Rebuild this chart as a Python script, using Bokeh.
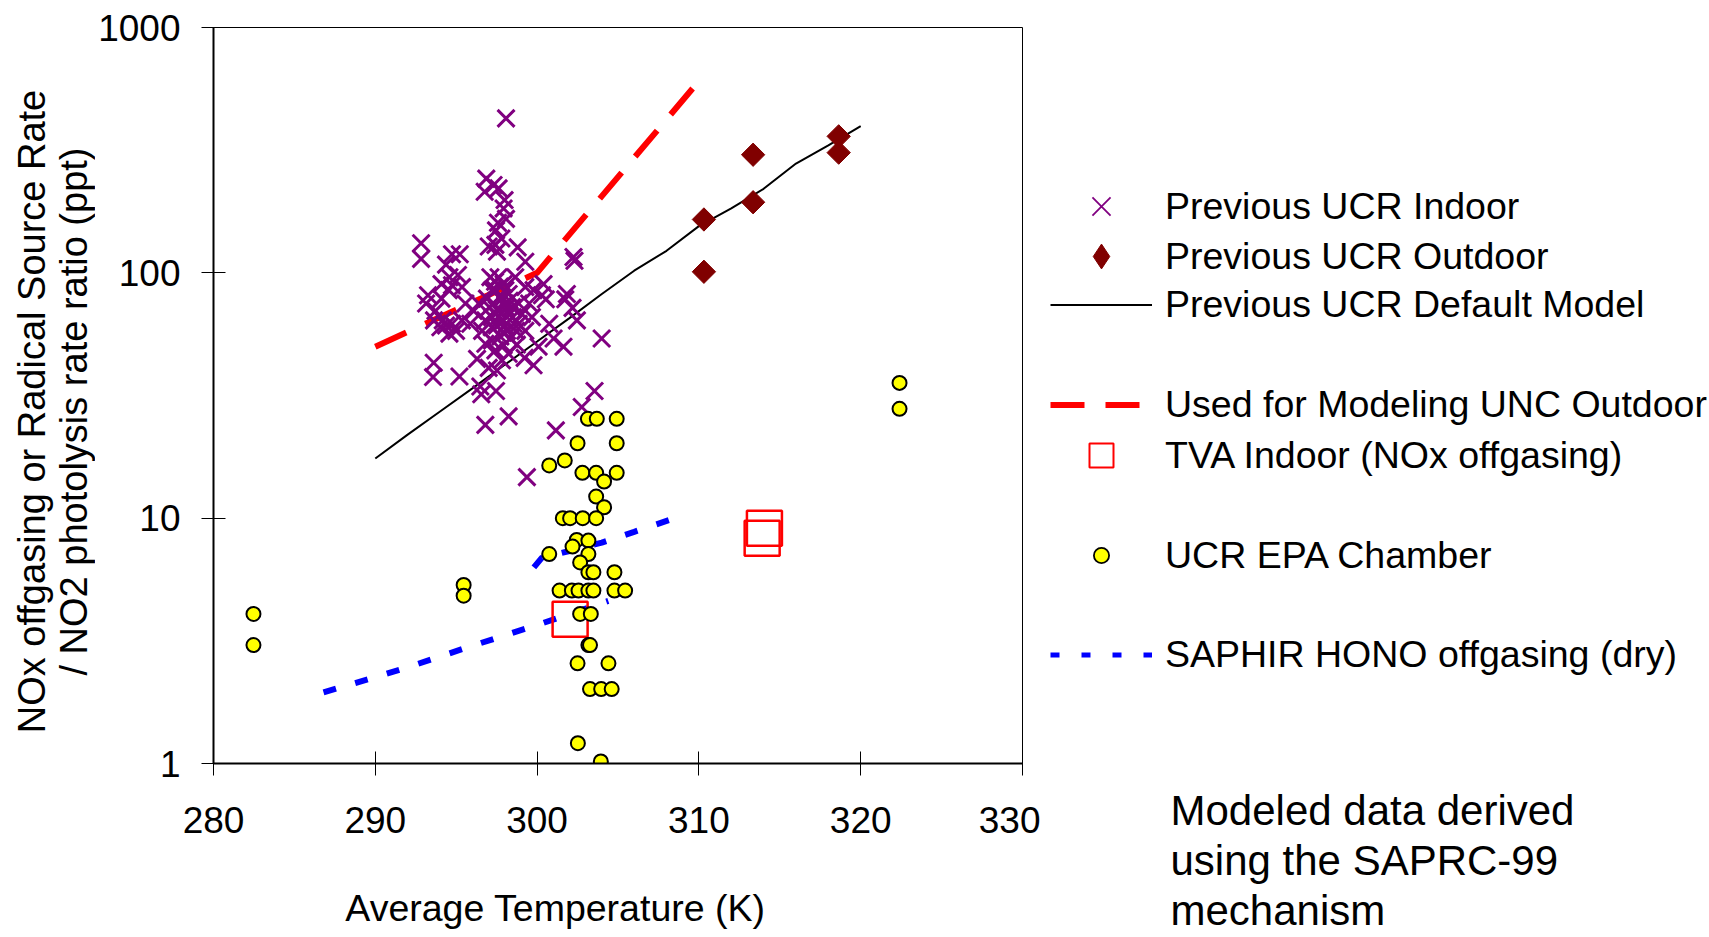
import math
import numpy as np
from bokeh.plotting import figure
from bokeh.layouts import row, column
from bokeh.models import (Plot, Range1d, FixedTicker, PrintfTickFormatter, Legend, LegendItem,
                          Label)
from bokeh.embed import file_html
from bokeh.resources import INLINE

FONT = "Liberation Sans"

# ---------------- data ----------------
x_ticks = [280, 290, 300, 310, 320, 330]
y_ticks = [1, 10, 100, 1000]
y_tick_labels = ["1", "10", "100", "1000"]

indoor_t = [298.08, 296.86, 297.31, 296.76, 297.62, 297.99, 297.93, 298.08, 297.58, 297.46,
            297.79, 297.42, 297.01, 297.52, 298.80, 292.83, 292.83, 294.74, 295.22, 299.27,
            302.25, 302.31, 294.37, 294.58, 294.09, 295.11, 294.74, 295.36, 294.54, 293.26,
            293.14, 294.09, 293.72, 293.63, 294.17, 294.37, 294.02, 294.74, 294.99, 294.58,
            295.36, 295.87, 296.08, 295.57, 296.39, 296.90, 297.21, 297.05, 299.27, 299.78,
            300.40, 300.30, 300.54, 299.51, 299.68, 299.27, 298.86, 298.75, 300.09, 300.75,
            301.02, 301.63, 301.74, 302.19, 301.84, 302.46, 303.99, 299.78, 299.23, 293.61,
            293.57, 295.20, 296.49, 296.55, 297.46, 298.24, 296.80, 297.52, 297.01, 296.29,
            297.62, 297.93, 297.42, 298.24, 297.73, 297.31, 298.04, 298.45, 297.62, 298.24,
            297.21, 297.93, 298.55, 297.52, 298.14, 297.73, 298.34, 297.21, 297.93, 297.42,
            298.24, 296.80, 296.60, 298.86, 299.06, 296.80, 297.83, 298.04, 297.11, 298.65,
            303.55, 302.76, 301.16, 299.37, 297.80, 298.10, 297.60, 298.00, 297.90, 297.50,
            298.30, 297.70, 298.50, 297.20, 298.70, 297.40]
indoor_v = [426, 242, 228, 214, 221, 198, 183, 166, 160, 149,
            138, 130, 128, 122, 127, 132, 114, 119, 119, 111,
            116, 112, 108, 96, 90, 98, 89, 87.5, 85, 81,
            75, 78.5, 70, 64, 64, 61, 60, 62, 58, 56.5,
            64, 62, 70, 75, 75, 78.5, 85, 72.5, 87.5, 85,
            90, 81, 78, 75, 66, 58, 62, 51, 50, 62,
            54, 50, 78, 72, 82, 64, 54, 42, 45, 43,
            37.6, 37.8, 34.4, 32, 33, 26, 24, 40, 41, 44.6,
            96, 90, 85, 82, 80, 75, 75, 72.5, 70, 68,
            66, 64, 62, 61, 58, 55, 54, 53, 50.6, 48.3,
            46.8, 51.4, 58, 75, 68, 64, 44, 85, 96, 96,
            33, 28.4, 22.8, 14.7, 78, 72, 66, 61, 57, 71,
            77, 88, 66, 60, 58, 92]

outdoor_t = [310.31, 310.31, 313.35, 313.35, 318.64, 318.64]
outdoor_v = [165, 101, 303, 194, 360, 309]

model_t = [290, 292, 294, 296, 298, 300, 302, 304, 306, 308, 310, 312, 314, 316, 318, 320]
model_v = [17.5, 21.9, 27.2, 33.8, 42.2, 52.5, 65.4, 82, 102, 123, 155, 183, 220, 279, 331, 396]

unc_t = [290, 300, 310.4]
unc_v = [50, 100, 650]

tva_t = [302.04, 314.05, 313.91]
tva_v = [3.87, 9.1, 8.28]

epa_t = [282.47, 282.47, 295.46, 295.46, 300.75, 301.71, 302.50, 304.92, 303.14, 303.69,
         304.92, 302.80, 303.65, 304.14, 304.92, 303.65, 304.14, 301.59, 302.04, 302.82,
         303.65, 302.45, 303.17, 302.19, 300.75, 303.17, 302.66, 303.17, 303.48, 304.78,
         301.39, 302.15, 302.56, 303.17, 303.48, 304.78, 305.44, 302.66, 303.32, 303.17,
         303.27, 302.50, 304.41, 303.27, 303.96, 304.61, 302.52, 303.94, 322.40, 322.40]
epa_v = [4.07, 3.04, 5.34, 4.83, 16.4, 17.2, 20.2, 20.2, 25.4, 25.4,
         25.4, 15.3, 15.3, 14.1, 15.3, 12.25, 11.08, 10.0, 10.0, 10.0,
         10.0, 8.15, 8.1, 7.66, 7.14, 7.14, 6.6, 6.02, 6.02, 6.02,
         5.07, 5.07, 5.07, 5.07, 5.07, 5.07, 5.07, 4.07, 4.07, 3.04,
         3.04, 2.56, 2.56, 2.01, 2.01, 2.01, 1.21, 1.02, 35.6, 27.9]

saphir_t = [286.8, 289.6, 292.1, 296.0, 299.9, 304.4, np.nan, 299.8, 300.3, 302.0, 304.0, 306.0, 308.5]
saphir_v = [1.95, 2.21, 2.48, 3.02, 3.65, 4.6, np.nan, 6.3, 6.9, 7.35, 7.95, 8.8, 10.0]

labels = ["Previous UCR Indoor", "Previous UCR Outdoor", "Previous UCR Default Model",
          "Used for Modeling UNC Outdoor", "TVA Indoor (NOx offgasing)", "UCR EPA Chamber",
          "SAPHIR HONO offgasing (dry)"]
note_lines = ["Modeled data derived", "using the SAPRC-99", "mechanism"]
x_title = "Average Temperature (K)"
y_title_lines = ["NOx offgasing or Radical Source Rate", "/ NO2 photolysis rate ratio (ppt)"]

H = 937          # page height
LEFT_W = 95      # strip holding the y-axis title
MAIN_W = 945     # chart incl. its axes
RIGHT_W = 669    # legend + note
XT_H = 57        # strip under the chart holding the x-axis title
CAN_UNALIGN = "frame_align" in Plot.properties()


def blank_panel(width, height):
    f = figure(width=width, height=height, x_range=Range1d(0, 1), y_range=Range1d(0, 1),
               x_axis_type=None, y_axis_type=None, output_backend="svg", toolbar_location=None,
               min_border=0)
    f.outline_line_color = None
    f.background_fill_color = "white"
    f.border_fill_color = "white"
    if CAN_UNALIGN:
        f.frame_align = False
    return f


# ---------------- main chart ----------------
p = figure(width=MAIN_W, height=H - XT_H, x_range=Range1d(280, 330), y_range=Range1d(1, 1000),
           y_axis_type="log", output_backend="svg", toolbar_location=None,
           min_border_left=211 - LEFT_W, min_border_right=18, min_border_top=27,
           min_border_bottom=(H - XT_H) - 763)
if CAN_UNALIGN:
    p.frame_align = False
p.background_fill_color = "white"
p.border_fill_color = "white"
p.outline_line_color = "black"
p.outline_line_width = 1
p.xgrid.visible = False
p.ygrid.visible = False

for ax in (p.xaxis[0], p.yaxis[0]):
    ax.axis_line_width = 2
    ax.axis_line_color = "black"
    ax.major_tick_in = 12
    ax.major_tick_out = 12
    ax.major_tick_line_color = "black"
    ax.major_tick_line_width = 1
    ax.minor_tick_line_color = None
    ax.major_label_text_font = FONT
    ax.major_label_text_font_size = "37px"
    ax.major_label_text_color = "black"

p.xaxis.ticker = FixedTicker(ticks=x_ticks)
p.xaxis.major_label_standoff = 31
p.yaxis.ticker = FixedTicker(ticks=y_ticks)
p.yaxis.formatter = PrintfTickFormatter(format="%d")
p.yaxis.major_label_overrides = {t: s for t, s in zip(y_ticks, y_tick_labels)}
p.yaxis.major_label_standoff = 21

p.line(model_t, model_v, line_color="black", line_width=2)
p.line(unc_t, unc_v, line_color="#FF0000", line_width=6, line_dash="34 21")
p.line(saphir_t, saphir_v, line_color="#0000FF", line_width=6, line_dash="13 20")
p.scatter(indoor_t, indoor_v, marker="x", size=24, line_color="#800080", line_width=3)
p.scatter(outdoor_t, outdoor_v, marker="square", angle=math.pi / 4, size=16.5,
          fill_color="#800000", line_color="#800000")
p.scatter(tva_t, tva_v, marker="square", size=35, fill_color=None,
          line_color="#FF0000", line_width=2.5)
p.scatter(epa_t, epa_v, marker="circle", size=14, fill_color="#FFFF00",
          line_color="black", line_width=2)

# ---------------- x-axis title strip ----------------
xs = blank_panel(MAIN_W, XT_H)
xs.add_layout(Label(x=555 - LEFT_W, y=H - 907, x_units="screen", y_units="screen", text=x_title,
                    text_align="center", text_baseline="middle", text_font=FONT,
                    text_font_size="37.5px", text_color="black"))

# ---------------- y-axis title strip (left) ----------------
lp = blank_panel(LEFT_W, H)
for text, xmid in zip(y_title_lines, [31, 73]):
    lp.add_layout(Label(x=xmid, y=H - 411, x_units="screen", y_units="screen", text=text,
                        angle=math.pi / 2, text_align="center", text_baseline="middle",
                        text_font=FONT, text_font_size="38px", text_color="black"))

# ---------------- legend & note panel (right) ----------------
q = blank_panel(RIGHT_W, H)

# legend samples: the same series, drawn in a range where none of their points is visible
k_indoor = q.scatter(indoor_t, indoor_v, marker="x", line_color="#800080", line_width=1.8)
k_outdoor = q.scatter(outdoor_t, outdoor_v, marker="diamond",
                      fill_color="#800000", line_color="#800000")
k_model = q.line(model_t, model_v, line_color="black", line_width=2)
k_unc = q.line(unc_t, unc_v, line_color="#FF0000", line_width=6, line_dash="34 21")
k_tva = q.scatter(tva_t, tva_v, marker="square", fill_color=None, line_color="#FF0000",
                  line_width=2)
k_epa = q.scatter(epa_t, epa_v, marker="circle", fill_color="#FFFF00", line_color="black",
                  line_width=1.8)
k_saphir = q.line(saphir_t, saphir_v, line_color="#0000FF", line_width=5, line_dash="9 22")

rows = [(labels[0], k_indoor, 206, 64),
        (labels[1], k_outdoor, 256, 62),
        (labels[2], k_model, 305, 41),
        (labels[3], k_unc, 405, 41),
        (labels[4], k_tva, 455, 60),
        (labels[5], k_epa, 556, 38),
        (labels[6], k_saphir, 655, 41)]
for text, rend, cy, gh in rows:
    m = max(gh, 41)
    leg = Legend(items=[LegendItem(label=text, renderers=[rend])],
                 location=(10, H - (cy + m / 2)),
                 glyph_width=102, glyph_height=gh, label_height=20, label_standoff=13,
                 padding=0, margin=0, spacing=0,
                 border_line_color=None, background_fill_alpha=0,
                 label_text_font=FONT, label_text_font_size="37.5px", label_text_color="black")
    q.add_layout(leg)

for line, mid in zip(note_lines, [810, 860, 910]):
    q.add_layout(Label(x=130, y=H - mid, x_units="screen", y_units="screen", text=line,
                       text_align="left", text_baseline="middle", text_font=FONT,
                       text_font_size="42px", text_color="black"))

layout = row(lp, column(p, xs, spacing=0), q, spacing=0)
open("out.html", "w").write(file_html(layout, INLINE))
